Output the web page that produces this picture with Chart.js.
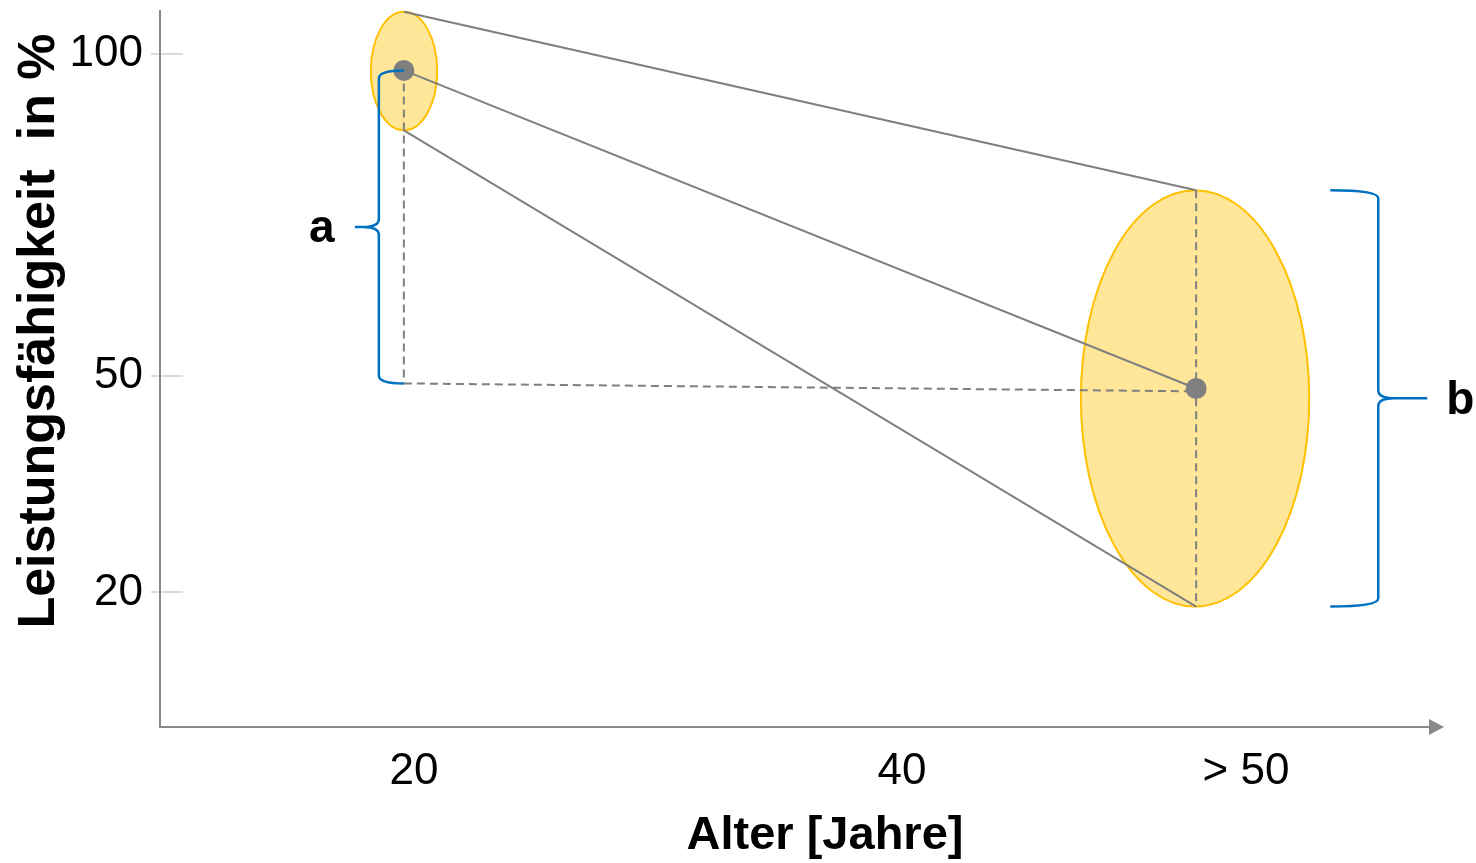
<!DOCTYPE html>
<html>
<head>
<meta charset="utf-8">
<script src="https://cdn.jsdelivr.net/npm/chart.js@4.4.1/dist/chart.umd.min.js"></script>
<style>
  html, body { margin: 0; padding: 0; background: #ffffff; }
  #wrap { width: 1476px; height: 863px; position: relative; }
</style>
</head>
<body>
<div id="wrap"><canvas id="chart"></canvas></div>
<script>
// ---- axes -------------------------------------------------------------
const xTickValues = [20, 40, 50];
const xTickLabels = ['20', '40', '> 50'];
const yTickValues = [20, 50, 100];

// ---- age groups: young (20) and older (> 50) --------------------------
const groupAge    = [19.6, 48.55];   // age of each group
const groupMean   = [97.5, 48.3];    // mean performance in %
const groupTop    = [106.8, 78.9];   // best performer of the group
const groupBottom = [88.2, 17.9];    // weakest performer of the group
const groupAgeLow  = [18.3, 45.2];   // horizontal extent of the spread cloud
const groupAgeHigh = [20.95, 51.7];
// level the young mean falls to, carried over to the older group
const dropLevel   = [49.0, 47.9];

// ---- schematic axes: each axis is stretched piecewise between knots ----
const axisWarp = {
  x: { values: [10, 20, 40, 50, 55], stops: [0, 0.1997, 0.5833, 0.8538, 1] },
  y: { values: [0, 20, 50, 100, 107], stops: [0, 0.1878, 0.4896, 0.9388, 1] }
};

class WarpedScale extends Chart.LinearScale {
  getPixelForValue(value) {
    const { values, stops } = axisWarp[this.id];
    let i = 1;
    while (i < values.length - 1 && value > values[i]) i++;
    const t = (value - values[i - 1]) / (values[i] - values[i - 1]);
    return this.getPixelForDecimal(stops[i - 1] + t * (stops[i] - stops[i - 1]));
  }
  getValueForPixel(pixel) {
    const { values, stops } = axisWarp[this.id];
    const d = this.getDecimalForPixel(pixel);
    let i = 1;
    while (i < stops.length - 1 && d > stops[i]) i++;
    const t = (d - stops[i - 1]) / (stops[i] - stops[i - 1]);
    return values[i - 1] + t * (values[i] - values[i - 1]);
  }
}
WarpedScale.id = 'warped';
WarpedScale.defaults = Chart.LinearScale.defaults;
Chart.register(WarpedScale);

const FONT = "'Liberation Sans', Arial, Helvetica, sans-serif";
Chart.defaults.font.family = FONT;

const GRAY = '#7F7F7F';
const AXIS = '#898989';
const BLUE = '#0070C0';

const pt = (i, ys) => ({ x: groupAge[i], y: ys[i] });
const seg = (a, b, extra) => Object.assign({
  type: 'scatter', showLine: true, data: [a, b],
  borderColor: GRAY, borderWidth: 2, pointRadius: 0, fill: false
}, extra || {});
const dashed = { borderDash: [8, 5] };

// ---- decorations drawn through the scales ------------------------------
function brace(ctx, xLine, xHook, tipLen, yTop, yBot, r) {
  const s = Math.sign(xHook - xLine);
  const yMid = (yTop + yBot) / 2;
  ctx.beginPath();
  ctx.moveTo(xHook, yTop);
  ctx.quadraticCurveTo(xLine, yTop, xLine, yTop + r);
  ctx.lineTo(xLine, yMid - r);
  ctx.quadraticCurveTo(xLine, yMid, xLine - s * 2 * r, yMid);
  ctx.lineTo(xLine - s * tipLen, yMid);
  ctx.moveTo(xLine - s * 2 * r, yMid);
  ctx.quadraticCurveTo(xLine, yMid, xLine, yMid + r);
  ctx.lineTo(xLine, yBot - r);
  ctx.quadraticCurveTo(xLine, yBot, xHook, yBot);
  ctx.stroke();
  return { tipX: xLine - s * tipLen, yMid, s };
}

const sketch = {
  id: 'sketch',
  beforeDraw(chart) {
    // short tick marks across the performance axis
    const { ctx, scales: { y } } = chart;
    ctx.save();
    ctx.strokeStyle = '#D9D9D9';
    ctx.lineWidth = 2;
    y.ticks.forEach(t => {
      const py = Math.round(y.getPixelForValue(t.value));
      ctx.beginPath();
      ctx.moveTo(y.right - 9, py);
      ctx.lineTo(y.right + 23, py);
      ctx.stroke();
    });
    ctx.restore();
  },
  beforeDatasetsDraw(chart) {
    // spread of performance within each age group
    const { ctx, scales: { x, y } } = chart;
    ctx.save();
    ctx.fillStyle = '#FFE699';
    ctx.strokeStyle = '#FFC000';
    ctx.lineWidth = 2;
    groupAge.forEach((_, i) => {
      const l = x.getPixelForValue(groupAgeLow[i]);
      const r = x.getPixelForValue(groupAgeHigh[i]);
      const t = y.getPixelForValue(groupTop[i]);
      const b = y.getPixelForValue(groupBottom[i]);
      ctx.beginPath();
      ctx.ellipse((l + r) / 2, (t + b) / 2, (r - l) / 2, (b - t) / 2, 0, 0, Math.PI * 2);
      ctx.fill();
      ctx.stroke();
    });
    ctx.restore();
  },
  afterDraw(chart) {
    const { ctx, scales: { x, y } } = chart;
    ctx.save();

    // arrow head at the end of the age axis
    ctx.fillStyle = AXIS;
    ctx.beginPath();
    ctx.moveTo(x.right - 3, x.top - 8);
    ctx.lineTo(x.right + 12, x.top);
    ctx.lineTo(x.right - 3, x.top + 8);
    ctx.closePath();
    ctx.fill();

    // braces: a = drop of the mean, b = spread of the older group
    ctx.strokeStyle = BLUE;
    ctx.lineWidth = 2.5;
    ctx.lineJoin = 'round';
    ctx.fillStyle = '#000000';
    ctx.font = 'bold 46px ' + FONT;
    ctx.textAlign = 'center';
    ctx.textBaseline = 'alphabetic';

    const gx0 = x.getPixelForValue(groupAge[0]);
    const ba = brace(ctx, gx0 - 25, gx0, 24,
      y.getPixelForValue(groupMean[0]), y.getPixelForValue(dropLevel[0]), 8);
    ctx.fillText('a', ba.tipX - 33, ba.yMid + 15);

    const rx1 = x.getPixelForValue(groupAgeHigh[1]);
    const bb = brace(ctx, rx1 + 69, rx1 + 21, 49,
      y.getPixelForValue(groupTop[1]), y.getPixelForValue(groupBottom[1]), 8);
    ctx.fillText('b', bb.tipX + 33, bb.yMid + 16);

    // axis titles
    ctx.textBaseline = 'middle';
    ctx.font = 'bold 47px ' + FONT;
    ctx.fillText('Alter [Jahre]', 825, 836);
    ctx.translate(40, 331);
    ctx.rotate(-Math.PI / 2);
    ctx.font = 'bold 52px ' + FONT;
    ctx.fillText('Leistungsfähigkeit  in %', 0, 0);
    ctx.restore();
  }
};

new Chart(document.getElementById('chart'), {
  type: 'scatter',
  data: {
    datasets: [
      // group means
      {
        type: 'scatter',
        data: groupAge.map((a, i) => ({ x: a, y: groupMean[i] })),
        pointRadius: 10.5, pointBackgroundColor: GRAY, pointBorderWidth: 0,
        showLine: false
      },
      // links between the two groups
      seg(pt(0, groupTop), pt(1, groupTop)),
      seg(pt(0, groupMean), pt(1, groupMean)),
      seg(pt(0, groupBottom), pt(1, groupBottom)),
      // guide lines
      seg(pt(0, groupMean), pt(0, dropLevel), dashed),
      seg(pt(0, dropLevel), pt(1, dropLevel), dashed),
      seg(pt(1, groupTop), pt(1, groupBottom), dashed)
    ]
  },
  options: {
    responsive: true,
    maintainAspectRatio: false,
    animation: false,
    events: [],
    layout: { padding: { top: 6, right: 44, left: 0, bottom: 0 } },
    plugins: { legend: { display: false }, tooltip: { enabled: false } },
    scales: {
      x: {
        type: 'warped',
        position: 'bottom',
        min: 10, max: 55,
        grid: { display: false, drawTicks: false },
        border: { display: true, color: AXIS, width: 2 },
        afterBuildTicks: s => { s.ticks = xTickValues.map(v => ({ value: v })); },
        afterFit: s => { s.height = 136; s.paddingLeft = 0; s.paddingRight = 0; },
        ticks: {
          autoSkip: false, maxRotation: 0, padding: 18,
          color: '#000000', font: { size: 44 },
          callback: (v, i) => xTickLabels[i]
        }
      },
      y: {
        type: 'warped',
        position: 'left',
        min: 0, max: 107,
        grid: { display: false, drawTicks: false },
        border: { display: true, color: AXIS, width: 2 },
        afterBuildTicks: s => { s.ticks = yTickValues.map(v => ({ value: v })); },
        afterFit: s => { s.width = 160; s.paddingTop = 0; s.paddingBottom = 0; },
        ticks: {
          autoSkip: false, padding: 17,
          color: '#000000', font: { size: 44 },
          callback: v => String(v)
        }
      }
    }
  },
  plugins: [sketch]
});
</script>
</body>
</html>
